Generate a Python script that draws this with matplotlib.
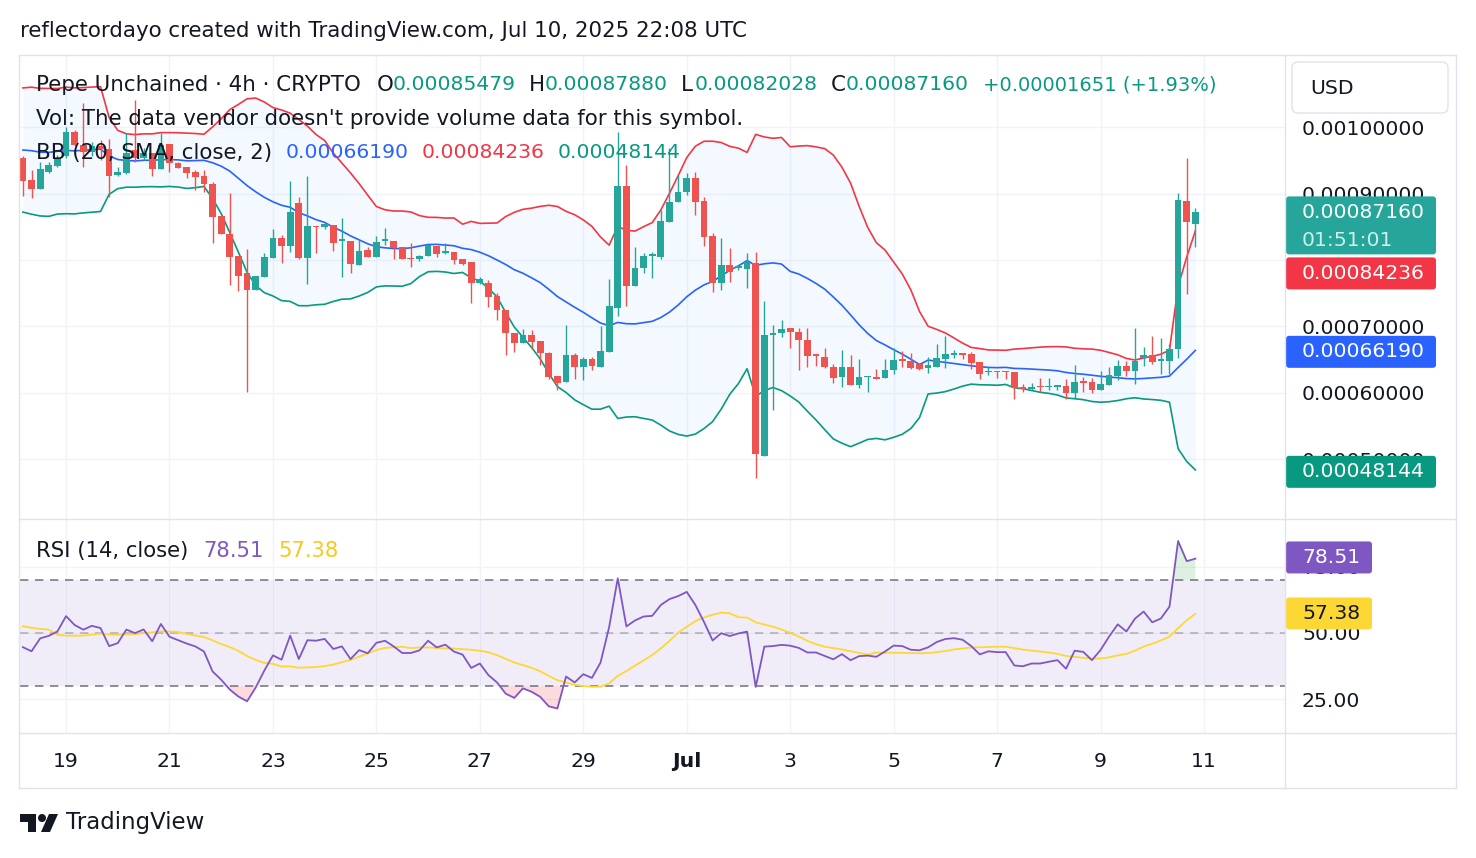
import numpy as np
import pandas as pd
import matplotlib
matplotlib.use('Agg')
import matplotlib.pyplot as plt
from matplotlib.patches import FancyBboxPatch, Polygon, Circle
from matplotlib.lines import Line2D
from matplotlib.transforms import IdentityTransform

# Pepe Unchained / USD, 4h candles from Jun 18 04:00 to Jul 10 20:00 UTC
# prices are kept in units of 1e-5 USD
UNIT = 1e-5
start = '2025-06-18 04:00'

# closes before the visible window (only used to warm up BB / RSI)
prior_close = [92.79, 98.04, 95.04, 92.02, 96.54, 98.79, 94.29, 95.34, 95.04, 113.08,
               104.06, 99.11, 96.54, 94.29, 93.54, 95.79, 93.84, 95.04, 95.79]

opens = [95.34, 92.02, 90.67, 93.24, 94.14, 95.64, 99.26, 97.29, 96.24, 97.14,
         96.69, 92.79, 93.09, 96.54, 95.34, 96.09, 93.69, 97.44, 94.59, 93.99,
         93.24, 92.64, 91.42, 86.62, 83.92, 80.60, 78.05, 75.50, 77.45, 80.30,
         83.30, 82.10, 88.57, 80.30, 85.10, 84.95, 85.25, 82.85, 82.85, 79.25,
         81.50, 80.45, 82.85, 82.85, 81.95, 80.30, 80.15, 80.60, 82.10, 81.05,
         81.20, 80.15, 79.70, 76.55, 76.55, 74.59, 72.49, 69.02, 67.52, 68.72,
         67.82, 66.02, 62.57, 61.67, 65.72, 63.92, 65.12, 63.92, 66.17, 72.79,
         91.12, 76.10, 78.80, 80.60, 80.45, 85.70, 88.72, 90.22, 92.34, 88.87,
         83.60, 76.55, 79.25, 78.80, 78.65, 79.55, 50.53, 68.72, 69.02, 69.77,
         69.17, 67.97, 65.87, 65.42, 63.92, 62.42, 63.92, 61.22, 62.42, 62.42,
         62.27, 63.47, 65.12, 64.82, 64.37, 63.77, 63.92, 65.12, 65.72, 66.02,
         65.87, 64.67, 63.17, 63.32, 63.32, 63.17, 60.90, 60.60, 61.07, 60.90,
         60.90, 61.07, 60.00, 61.82, 61.67, 60.45, 61.22, 62.57, 64.07, 63.32,
         65.27, 65.72, 64.82, 64.82, 66.62, 88.87, 85.479]

highs = [95.64, 93.54, 94.74, 94.74, 95.79, 100.01, 99.56, 103.61, 97.74, 98.04,
         98.19, 93.99, 99.11, 104.06, 96.84, 96.09, 99.11, 97.44, 94.74, 93.99,
         93.54, 93.54, 91.72, 86.62, 90.07, 80.60, 81.65, 77.60, 81.05, 84.65,
         83.75, 91.87, 89.47, 92.64, 85.10, 85.40, 85.25, 86.32, 82.85, 83.00,
         81.95, 83.60, 84.80, 82.85, 81.95, 82.55, 80.75, 82.25, 82.10, 82.55,
         81.20, 80.15, 79.70, 77.45, 77.00, 75.05, 72.49, 69.02, 69.62, 69.47,
         67.82, 66.17, 62.57, 70.24, 66.02, 65.42, 65.42, 70.09, 77.15, 99.26,
         94.29, 81.95, 81.05, 81.20, 87.52, 96.84, 92.79, 93.09, 93.24, 89.47,
         84.05, 83.30, 81.80, 79.25, 81.05, 81.20, 73.84, 70.24, 70.99, 69.77,
         69.77, 69.77, 65.87, 66.77, 64.37, 66.47, 65.72, 65.12, 62.57, 63.62,
         65.12, 66.77, 66.32, 66.02, 64.52, 65.42, 67.32, 68.57, 66.47, 66.02,
         66.17, 64.67, 63.92, 63.32, 63.32, 63.17, 61.37, 61.52, 62.27, 62.27,
         61.22, 62.12, 64.22, 62.42, 62.27, 63.32, 63.92, 64.97, 64.82, 69.77,
         66.92, 68.57, 68.27, 67.32, 90.07, 95.34, 87.880]

lows = [89.62, 89.32, 90.67, 93.09, 93.99, 95.34, 97.14, 93.99, 95.64, 95.04,
        89.47, 92.64, 92.94, 94.74, 95.04, 92.64, 93.69, 93.24, 93.84, 92.34,
        90.52, 90.22, 82.57, 83.92, 76.25, 75.35, 60.15, 75.50, 77.45, 80.30,
        79.55, 81.20, 80.15, 76.40, 81.05, 84.65, 81.35, 77.45, 78.05, 79.25,
        80.45, 80.45, 82.25, 80.15, 80.15, 78.95, 79.85, 80.60, 80.45, 80.90,
        79.40, 79.25, 73.54, 76.40, 72.94, 70.99, 65.72, 66.17, 67.52, 66.77,
        64.22, 62.12, 60.45, 61.67, 62.12, 61.97, 63.47, 63.92, 66.17, 71.59,
        73.09, 76.10, 78.05, 77.30, 80.15, 85.70, 88.72, 89.77, 86.77, 82.10,
        75.20, 75.50, 76.70, 78.50, 75.80, 47.23, 50.53, 57.45, 68.42, 66.77,
        63.47, 63.92, 64.07, 63.77, 61.52, 60.90, 61.22, 60.75, 60.15, 62.12,
        62.27, 62.87, 63.92, 63.62, 63.47, 63.02, 63.92, 63.77, 65.27, 65.12,
        63.62, 62.12, 62.72, 62.27, 62.12, 59.10, 60.15, 60.45, 60.15, 60.45,
        60.45, 59.10, 59.25, 60.15, 60.00, 60.45, 61.22, 61.97, 62.57, 61.37,
        64.07, 64.37, 62.87, 62.87, 65.27, 74.89, 82.028]

closes = [91.87, 90.67, 93.69, 94.29, 95.34, 99.26, 97.29, 96.24, 97.14, 96.69,
          92.64, 93.24, 96.09, 95.34, 96.09, 93.69, 97.29, 94.59, 93.84, 93.09,
          92.49, 91.42, 86.47, 83.92, 80.45, 77.60, 75.50, 77.60, 80.45, 83.30,
          82.10, 87.22, 80.30, 85.10, 84.95, 85.40, 82.55, 83.15, 79.40, 81.35,
          80.45, 82.70, 83.15, 81.80, 80.15, 80.15, 80.60, 82.25, 80.90, 81.35,
          80.00, 79.40, 76.55, 77.15, 74.44, 72.49, 69.02, 67.52, 68.72, 67.67,
          66.02, 62.42, 61.52, 65.72, 63.92, 65.12, 64.07, 66.32, 73.09, 91.12,
          76.10, 78.80, 80.60, 80.90, 85.85, 88.72, 90.22, 92.34, 88.72, 83.45,
          76.55, 79.25, 78.20, 79.10, 79.70, 50.83, 68.72, 69.02, 69.62, 69.17,
          67.97, 65.57, 65.57, 63.92, 62.27, 63.92, 61.22, 62.42, 62.57, 62.12,
          63.47, 64.97, 64.82, 63.77, 63.62, 64.22, 65.27, 65.87, 66.02, 65.72,
          64.52, 62.87, 63.32, 63.17, 63.17, 60.75, 60.60, 60.90, 60.90, 61.07,
          61.22, 60.00, 61.67, 61.52, 60.45, 61.37, 62.72, 64.07, 63.32, 64.82,
          65.72, 64.67, 65.12, 66.62, 89.02, 85.70, 87.160]

# values shown in the legends / price scale
bar_change = 0.00001651
bb_last = {'basis': 0.00066190, 'upper': 0.00084236, 'lower': 0.00048144}
rsi_last, rsi_ma_last = 78.51, 57.38
countdown = '01:51:01'

price_ticks = [0.0005, 0.0006, 0.0007, 0.0008, 0.0009, 0.0010]
hidden_ticks = [0.0008]  # sits under the BB upper tag on the scale
rsi_ticks = [25, 50, 75]

UP, DOWN = '#26A69A', '#EF5350'
TXT = '#131722'
BORDER = '#E0E3EB'
GRID = '#F0F3FA'
FONT = 'DejaVu Sans'
FS_WORD = 15.4   # legend / header text
FS_NUM = 14.7    # price values, scales
FS_RSI = 15.2

W, H = 1476, 858


def fx(x):
    return x / W


def fy(y):
    return 1 - y / H


plt.rcParams['font.family'] = FONT

# ---- indicators
o = np.array(opens) * UNIT
h = np.array(highs) * UNIT
l = np.array(lows) * UNIT
c = np.array(closes) * UNIT
n = len(c)
x = np.arange(n)
n_prior = len(prior_close)

close_all = pd.Series(np.array(prior_close + closes) * UNIT)
basis = close_all.rolling(20).mean()
dev = close_all.rolling(20).std(ddof=0)
upper = (basis + 2 * dev).values[n_prior:]
lower = (basis - 2 * dev).values[n_prior:]
basis = basis.values[n_prior:]

delta = close_all.diff().fillna(0)
gain = delta.clip(lower=0).ewm(alpha=1 / 14, adjust=False).mean()
loss = (-delta.clip(upper=0)).ewm(alpha=1 / 14, adjust=False).mean()
rsi_all = 100 - 100 / (1 + gain / loss)
rsi_ma = rsi_all.rolling(14, min_periods=1).mean().values[n_prior:]
rsi = rsi_all.values[n_prior:]

# ---- figure
fig = plt.figure(figsize=(W / 100, H / 100), dpi=100)
ax = fig.add_axes([fx(20), fy(519), (1285 - 20) / W, (519 - 55) / H])
ax_rsi = fig.add_axes([fx(20), fy(733), (1285 - 20) / W, (733 - 519) / H], sharex=ax)

colors = np.where(c >= o, UP, DOWN)
ax.fill_between(x, lower, upper, color='#2196F3', alpha=0.05, lw=0, zorder=1)
ax.plot(x, upper, color='#F23645', lw=1.2, zorder=2)
ax.plot(x, basis, color='#2962FF', lw=1.2, zorder=2)
ax.plot(x, lower, color='#089981', lw=1.2, zorder=2)
ax.vlines(x, l, h, colors=colors, lw=1.0, zorder=3)
body = np.maximum(np.abs(c - o), 0.16 * UNIT)
ax.bar(x, body, bottom=np.minimum(o, c), width=0.78, color=colors, lw=0, zorder=4)

ax.set_ylim(41.05 * UNIT, 110.83 * UNIT)
ax.set_yticks(price_ticks)
ax.set_yticklabels(['' if p in hidden_ticks else '%.8f' % p for p in price_ticks])

# RSI pane
ax_rsi.axhspan(30, 70, color='#7E57C2', alpha=0.1, lw=0)
ax_rsi.axhline(70, color='#787B86', ls=(0, (5, 4)), lw=1.2)
ax_rsi.axhline(50, color='#787B86', alpha=0.5, ls=(0, (5, 4)), lw=1.2)
ax_rsi.axhline(30, color='#787B86', ls=(0, (5, 4)), lw=1.2)
ax_rsi.fill_between(x, 70, rsi, where=rsi > 70, interpolate=True, color='#4CAF50', alpha=0.18, lw=0)
ax_rsi.fill_between(x, 30, rsi, where=rsi < 30, interpolate=True, color='#F23645', alpha=0.18, lw=0)
ax_rsi.plot(x, rsi_ma, color='#FDD835', lw=1.3, zorder=3)
ax_rsi.plot(x, rsi, color='#7E57C2', lw=1.3, zorder=4)
ax_rsi.set_ylim(12.26, 93.02)
ax_rsi.set_yticks(rsi_ticks)
ax_rsi.set_yticklabels(['%.2f' % v for v in rsi_ticks])

# time axis
times = pd.date_range(start, periods=n, freq='4h')
tick_days = pd.date_range('2025-06-19', '2025-07-11', freq='2D')
tick_pos = [(d - times[0]) / pd.Timedelta('4h') for d in tick_days]
tick_lab = ['Jul' if d.day == 1 else str(d.day) for d in tick_days]
ax_rsi.set_xticks(tick_pos)
ax_rsi.set_xticklabels(tick_lab)
for t, lab in zip(ax_rsi.get_xticklabels(), tick_lab):
    if lab == 'Jul':
        t.set_fontweight('bold')
ax.set_xlim(-0.34, 146.4)

for a in (ax, ax_rsi):
    a.grid(True, color=GRID, lw=1.0)
    a.set_axisbelow(True)
    for s in a.spines.values():
        s.set_visible(False)
    a.yaxis.tick_right()
    a.tick_params(axis='y', length=0, pad=12.2, labelsize=FS_NUM, labelcolor=TXT)
ax.tick_params(axis='x', length=0, labelbottom=False)
ax_rsi.tick_params(axis='x', length=0, pad=13.5, labelsize=FS_NUM, labelcolor=TXT)


# ---- frame lines
def line_px(xs, ys):
    fig.add_artist(Line2D(xs, [H - v for v in ys], transform=IdentityTransform(),
                          color=BORDER, lw=1.0))


line_px([19, 1456], [55, 55])
line_px([19, 1456], [788, 788])
line_px([19, 19], [55, 788])
line_px([1456, 1456], [55, 788])
line_px([1285, 1285], [55, 788])
line_px([19, 1456], [519, 519])
line_px([19, 1456], [733, 733])


# ---- price scale tags
def tag(y_disp, text, fc, tc='white', w=150, top=16, bottom=16, sub=None):
    fig.add_artist(FancyBboxPatch((1286, y_disp - bottom), w, top + bottom,
                                  boxstyle='round,pad=0,rounding_size=3',
                                  transform=IdentityTransform(), fc=fc, ec='none'))
    fig.text(1302, y_disp, text, transform=IdentityTransform(), color=tc,
             fontsize=FS_NUM, va='center', ha='left')
    if sub:
        fig.text(1302, y_disp - 28, sub, transform=IdentityTransform(), color='#CFEFEA',
                 fontsize=FS_NUM, va='center', ha='left')


def ydisp(a, v):
    return a.transData.transform((0, v))[1]


y_close = ydisp(ax, c[-1])
tag(y_close, '%.8f' % c[-1], UP, bottom=42, sub=countdown)
tag(y_close - 61, '%.8f' % bb_last['upper'], '#F23645')
tag(ydisp(ax, bb_last['basis']), '%.8f' % bb_last['basis'], '#2962FF')
tag(ydisp(ax, bb_last['lower']), '%.8f' % bb_last['lower'], '#089981')
tag(ydisp(ax_rsi, rsi_last), '%.2f' % rsi_last, '#7E57C2', w=86)
tag(ydisp(ax_rsi, rsi_ma_last), '%.2f' % rsi_ma_last, '#FDD835', tc=TXT, w=86)

# USD button
fig.add_artist(FancyBboxPatch((1292, H - 113), 156, 51, boxstyle='round,pad=0,rounding_size=6',
                              transform=IdentityTransform(), fc='white', ec=BORDER, lw=1))
fig.text(1310, H - 88, 'USD', transform=IdentityTransform(), color=TXT, fontsize=FS_NUM, va='center')


# ---- texts
def txt(xp, yp, s, color=TXT, size=FS_WORD, **kw):
    fig.text(xp, H - yp, s, transform=IdentityTransform(), color=color,
             fontsize=size, va='center', ha='left', **kw)


txt(20, 31, 'reflectordayo created with TradingView.com, Jul 10, 2025 22:08 UTC')

G = '#089981'
txt(36, 85, 'Pepe Unchained \u00b7 4h \u00b7 CRYPTO')
txt(377, 85, 'O')
txt(393, 85, '%.8f' % o[-1], G, FS_NUM)
txt(529, 85, 'H')
txt(545, 85, '%.8f' % h[-1], G, FS_NUM)
txt(681, 85, 'L')
txt(695, 85, '%.8f' % l[-1], G, FS_NUM)
txt(831, 85, 'C')
txt(846, 85, '%.8f' % c[-1], G, FS_NUM)
pct = bar_change / (c[-1] - bar_change) * 100
txt(983, 85, '+%.8f (+%.2f%%)' % (bar_change, pct), G, 14.0)
txt(36, 119, "Vol: The data vendor doesn't provide volume data for this symbol.")
txt(36, 153, 'BB (20, SMA, close, 2)')
txt(286, 153, '%.8f' % bb_last['basis'], '#2962FF', FS_NUM)
txt(422, 153, '%.8f' % bb_last['upper'], '#F23645', FS_NUM)
txt(558, 153, '%.8f' % bb_last['lower'], '#089981', FS_NUM)
txt(36, 551, 'RSI (14, close)', size=FS_RSI)
txt(203, 551, '%.2f' % rsi_last, '#7E57C2', FS_RSI)
txt(278, 551, '%.2f' % rsi_ma_last, '#F9C81E', FS_RSI)

# TradingView logo
logo = '#131722'
fig.add_artist(Polygon([(20, H - 814), (36, H - 814), (36, H - 832), (28, H - 832), (28, H - 822), (20, H - 822)],
                       closed=True, transform=IdentityTransform(), fc=logo, ec='none'))
fig.add_artist(Circle((42, H - 818), 4, transform=IdentityTransform(), fc=logo, ec='none'))
fig.add_artist(Polygon([(49, H - 814), (58, H - 814), (50, H - 832), (41, H - 832)],
                       closed=True, transform=IdentityTransform(), fc=logo, ec='none'))
txt(66, 823, 'TradingView', size=16.5)

fig.savefig('out.png', dpi=100)
